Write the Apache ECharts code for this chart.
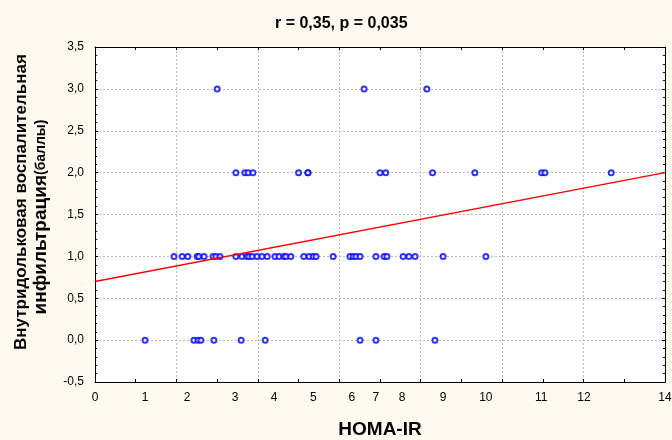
<!DOCTYPE html>
<html lang="ru">
<head>
<meta charset="UTF-8">
<title>HOMA-IR и инфильтрация</title>
<script src="https://cdn.jsdelivr.net/npm/echarts@6/dist/echarts.min.js"></script>
<style>
    html, body { margin: 0; background: #fffaf0; }
    #main { width: 672px; height: 440px; }
</style>
</head>
<body>
<div id="main"></div>
<script>
    // HOMA-IR по баллам инфильтрации (0, 1, 2, 3)
    var homaScore0 = [1.23, 2.43, 2.53, 2.60, 2.92, 3.59, 4.18, 6.51, 6.90, 8.35];
    var homaScore1 = [1.94, 2.14, 2.28, 2.51, 2.55, 2.68, 2.90, 2.97, 3.07, 3.46, 3.61, 3.73, 3.78,
                      3.86, 3.98, 4.10, 4.23, 4.42, 4.52, 4.64, 4.69, 4.81, 5.13, 5.26, 5.36, 5.43,
                      5.85, 6.26, 6.34, 6.41, 6.51, 6.90, 7.10, 7.17, 7.57, 7.71, 7.86, 8.55, 9.60];
    var homaScore2 = [3.46, 3.68, 3.76, 3.88, 5.00, 5.23, 5.23, 7.00, 7.14, 8.29, 9.33, 10.97, 11.05, 12.68];
    var homaScore3 = [3.00, 6.61, 8.15];
    var scores = [0, 1, 2, 3];

    // линия регрессии (концы)
    var fitX = [0, 14];
    var fitY = [0.70, 2.00];

    // подписи оси X стоят неравномерно
    var xLabelPos = [0, 1.23, 2.26, 3.44, 4.40, 5.36, 6.31, 6.90, 7.54, 8.55, 9.60, 10.96, 12.01, 14];
    var xLabelText = ['0', '1', '2', '3', '4', '5', '6', '7', '8', '9', '10', '11', '12', '14'];

    var FONT = 'Liberation Sans, Arial, sans-serif';

    var points = [];
    [homaScore0, homaScore1, homaScore2, homaScore3].forEach(function (arr, k) {
        for (var i = 0; i < arr.length; i++) {
            points.push([arr[i], scores[k]]);
        }
    });
    var fitLine = [];
    for (var i = 0; i < fitX.length; i++) {
        fitLine.push([fitX[i], fitY[i]]);
    }

    var frame = { onZero: false, lineStyle: { color: '#000', width: 1 } };
    var grid = { type: [2, 2], color: '#bdbdbd', width: 1 };

    var myChart = echarts.init(document.getElementById('main'));
    var option = {
        backgroundColor: '#fffaf0',
        animation: false,
        title: {
            text: 'r = 0,35, p = 0,035',
            left: 275,
            top: 16,
            padding: 0,
            textStyle: { fontFamily: FONT, fontSize: 16, fontWeight: 'bold', color: '#000' }
        },
        grid: {
            left: 95, right: 7, top: 47, bottom: 58,
            show: true, backgroundColor: '#fff', borderWidth: 0,
            containLabel: false, outerBoundsMode: 'none'
        },
        xAxis: [
            {
                type: 'value', position: 'bottom', min: 0, max: 14, interval: 2,
                axisLine: frame,
                axisTick: { inside: true, length: 3, lineStyle: { color: '#000' } },
                minorTick: { show: true, splitNumber: 2, length: 3, lineStyle: { color: '#000' } },
                splitLine: { show: true, lineStyle: grid },
                axisLabel: { show: false },
                name: 'HOMA-IR', nameLocation: 'middle', nameGap: 38,
                nameTextStyle: { fontFamily: FONT, fontSize: 19, fontWeight: 'bold', color: '#000' }
            },
            {
                type: 'value', position: 'top', min: 0, max: 14, interval: 2,
                axisLine: frame,
                axisTick: { inside: true, length: 3, lineStyle: { color: '#000' } },
                minorTick: { show: true, splitNumber: 2, length: 3, lineStyle: { color: '#000' } },
                splitLine: { show: false },
                axisLabel: { show: false }
            },
            {
                type: 'value', position: 'bottom', offset: 0, min: 0, max: 14,
                axisLine: { show: false, onZero: false },
                axisTick: { show: false },
                splitLine: { show: false },
                axisLabel: {
                    customValues: xLabelPos,
                    margin: 10,
                    fontFamily: FONT, fontSize: 12, color: '#000',
                    formatter: function (v) {
                        var best = -1, d = 1e9;
                        for (var i = 0; i < xLabelPos.length; i++) {
                            if (Math.abs(xLabelPos[i] - v) < d) { d = Math.abs(xLabelPos[i] - v); best = i; }
                        }
                        return d < 0.01 ? xLabelText[best] : '';
                    }
                }
            }
        ],
        yAxis: [
            {
                type: 'value', position: 'left', min: -0.5, max: 3.5, interval: 0.5,
                axisLine: frame,
                axisTick: { inside: true, length: 3, lineStyle: { color: '#000' } },
                minorTick: { show: true, splitNumber: 5, length: 2, lineStyle: { color: '#000' } },
                splitLine: { show: true, lineStyle: grid },
                axisLabel: {
                    margin: 11, fontFamily: FONT, fontSize: 12, color: '#000',
                    formatter: function (v) { return v.toFixed(1).replace('.', ','); }
                }
            },
            {
                type: 'value', position: 'right', min: -0.5, max: 3.5, interval: 0.5,
                axisLine: frame,
                axisTick: { inside: true, length: 3, lineStyle: { color: '#000' } },
                minorTick: { show: true, splitNumber: 5, length: 2, lineStyle: { color: '#000' } },
                splitLine: { show: false },
                axisLabel: { show: false }
            }
        ],
        graphic: [
            {
                type: 'text', x: 21, y: 202, rotation: Math.PI / 2,
                style: {
                    text: 'Внутридольковая воспалительная',
                    font: 'bold 17px ' + FONT, fill: '#000',
                    textAlign: 'center', textVerticalAlign: 'middle'
                }
            },
            {
                type: 'text', x: 41, y: 217, rotation: Math.PI / 2,
                style: {
                    text: '{a|инфильтрация}{b|(баллы)}',
                    textAlign: 'center', textVerticalAlign: 'middle',
                    rich: {
                        a: { fontFamily: FONT, fontSize: 19, fontWeight: 'bold', fill: '#000', color: '#000' },
                        b: { fontFamily: FONT, fontSize: 14, fontWeight: 'bold', fill: '#000', color: '#000' }
                    }
                }
            }
        ],
        series: [
            {
                type: 'line', data: fitLine, xAxisIndex: 0, yAxisIndex: 0,
                symbol: 'none', silent: true,
                lineStyle: { color: '#ff0000', width: 1.3 }
            },
            {
                type: 'scatter', data: points, xAxisIndex: 0, yAxisIndex: 0,
                symbol: 'emptyCircle', symbolSize: 5,
                itemStyle: { color: '#0000ff', borderColor: '#0000ff', borderWidth: 1.3 }
            }
        ]
    };
    myChart.setOption(option);
</script>
</body>
</html>
